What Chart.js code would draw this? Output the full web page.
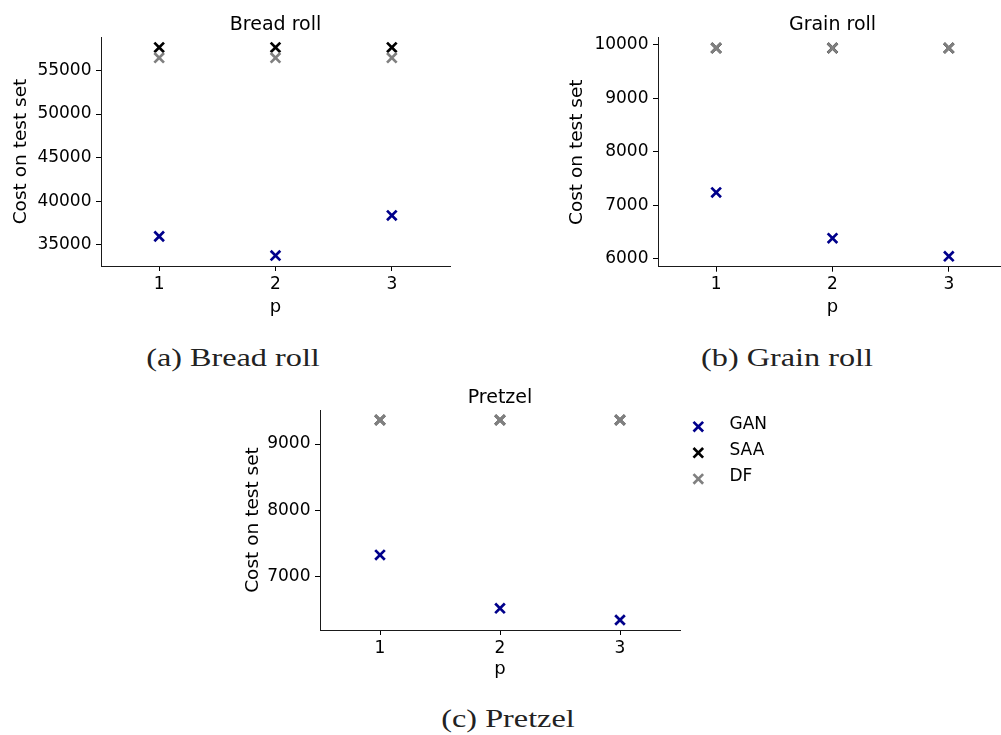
<!DOCTYPE html>
<html>
<head>
<meta charset="utf-8">
<script src="https://cdn.jsdelivr.net/npm/chart.js@4/dist/chart.umd.min.js"></script>
<style>
  html, body { margin: 0; padding: 0; background: #fff; overflow: hidden; width: 1001px; height: 735px; }
  canvas { position: absolute; }
  .cap {
    position: absolute;
    font-family: "Liberation Serif", "Times New Roman", serif;
    font-size: 26px;
    line-height: 26px;
    white-space: nowrap;
    color: #222;
    transform: translateX(-50%) scaleX(1.24);
  }
</style>
</head>
<body>
<canvas id="bread" width="460" height="330" style="left:0px;top:0px"></canvas>
<canvas id="grain" width="470" height="330" style="left:550px;top:0px"></canvas>
<canvas id="pretzel" width="620" height="310" style="left:230px;top:380px"></canvas>

<div class="cap" style="left:233px;top:345px">(a) Bread roll</div>
<div class="cap" style="left:787px;top:345px">(b) Grain roll</div>
<div class="cap" style="left:508px;top:706px">(c) Pretzel</div>

<script>
// Values of p on the x axis and the tick positions shown there
const pValues = [1, 2, 3];
const xTicks = [1, 2, 3];

// Series shared by all three panels (later series are drawn on top)
const seriesNames = ['GAN', 'SAA', 'DF'];
const seriesColors = ['#00008b', '#000000', '#808080'];

// Bread roll: cost on test set
const breadGAN = [35980, 33780, 38380];
const breadSAA = [57630, 57630, 57630];
const breadDF  = [56440, 56440, 56440];
const breadYTicks = [35000, 40000, 45000, 50000, 55000];

// Grain roll: cost on test set
const grainGAN = [7243, 6388, 6050];
const grainSAA = [9938, 9938, 9938];
const grainDF  = [9938, 9938, 9938];
const grainYTicks = [6000, 7000, 8000, 9000, 10000];

// Pretzel: cost on test set
const pretzelGAN = [7331, 6529, 6353];
const pretzelSAA = [9361, 9361, 9361];
const pretzelDF  = [9361, 9361, 9361];
const pretzelYTicks = [7000, 8000, 9000];

const FONT = '"DejaVu Sans", sans-serif';
Chart.defaults.font.family = FONT;
Chart.defaults.color = '#000';

const MARK_RADIUS = 6.8;
const MARK_WIDTH = 2.7;

// y range: data extent with 5% margin on both ends
function paddedRange(arrays) {
  const all = arrays.flat();
  const lo = Math.min(...all), hi = Math.max(...all);
  const m = (hi - lo) * 0.05;
  return [lo - m, hi + m];
}

// Legend placed to the right of the plot area, drawn from the dataset styles
const sideLegend = {
  id: 'sideLegend',
  afterDraw(chart) {
    const { ctx, chartArea } = chart;
    ctx.save();
    chart.data.datasets.forEach((ds, i) => {
      const cx = chartArea.right + 18.3;
      const cy = chartArea.top + 16.7 + i * 26.1;
      ctx.strokeStyle = ds.borderColor;
      ctx.fillStyle = ds.borderColor;
      ctx.lineWidth = ds.pointBorderWidth;
      if (Chart.helpers && Chart.helpers.drawPoint) {
        Chart.helpers.drawPoint(ctx, {
          pointStyle: 'crossRot', radius: ds.pointRadius,
          borderWidth: ds.pointBorderWidth, rotation: 0
        }, cx, cy);
      } else {
        const h = ds.pointRadius * Math.SQRT1_2;
        ctx.beginPath();
        ctx.moveTo(cx - h, cy - h); ctx.lineTo(cx + h, cy + h);
        ctx.moveTo(cx + h, cy - h); ctx.lineTo(cx - h, cy + h);
        ctx.stroke();
      }
      ctx.fillStyle = '#000';
      ctx.font = '17px ' + FONT;
      ctx.textBaseline = 'middle';
      ctx.textAlign = 'left';
      ctx.fillText(ds.label, chartArea.right + 49.5, cy - 2.5);
    });
    ctx.restore();
  }
};

function makePanel(id, title, series, yTicks, g) {
  const [yMin, yMax] = paddedRange(series);
  return new Chart(document.getElementById(id), {
    type: 'scatter',
    data: {
      datasets: series.map((vals, i) => ({
        label: seriesNames[i],
        data: pValues.map((p, j) => ({ x: p, y: vals[j] })),
        order: series.length - 1 - i,
        pointStyle: 'crossRot',
        pointRadius: MARK_RADIUS,
        pointHoverRadius: MARK_RADIUS,
        pointBorderWidth: MARK_WIDTH,
        pointHoverBorderWidth: MARK_WIDTH,
        borderColor: seriesColors[i],
        backgroundColor: seriesColors[i],
        showLine: false
      }))
    },
    options: {
      responsive: false,
      animation: false,
      devicePixelRatio: 1,
      events: [],
      layout: { padding: g.padding },
      plugins: {
        legend: { display: false },
        tooltip: { enabled: false },
        title: {
          display: true,
          text: title,
          fullSize: false,
          color: '#000',
          font: { size: 19, weight: 'normal', family: FONT, lineHeight: 1.2 },
          padding: g.titlePad
        }
      },
      scales: {
        x: {
          type: 'linear',
          min: 0.5,
          max: 3.5,
          afterBuildTicks: s => { s.ticks = xTicks.map(v => ({ value: v })); },
          afterFit: s => { s.height = g.xHeight; },
          grid: { display: true, drawOnChartArea: false, drawTicks: true, tickLength: 5, tickColor: '#000', tickWidth: 1 },
          border: { display: true, color: '#1a1a1a', width: 1 },
          ticks: { color: '#000', font: { size: 17 }, padding: 3, maxRotation: 0, autoSkip: false, callback: v => String(v) },
          title: { display: true, text: 'p', color: '#000', font: { size: 18, lineHeight: 1.2 }, padding: { top: 0, bottom: g.xTitlePad } }
        },
        y: {
          type: 'linear',
          min: yMin,
          max: yMax,
          afterBuildTicks: s => { s.ticks = yTicks.map(v => ({ value: v })); },
          afterFit: s => { s.width = g.yWidth; },
          grid: { display: true, drawOnChartArea: false, drawTicks: true, tickLength: 5, tickColor: '#000', tickWidth: 1 },
          border: { display: true, color: '#1a1a1a', width: 1 },
          ticks: { color: '#000', font: { size: 17 }, padding: 4.5, autoSkip: false, callback: v => String(v) },
          title: { display: true, text: 'Cost on test set', color: '#000', font: { size: 18.5, lineHeight: 1.2 }, padding: { top: g.yTitlePad, bottom: 0 } }
        }
      }
    },
    plugins: g.legend ? [sideLegend] : []
  });
}

makePanel('bread', 'Bread roll', [breadGAN, breadSAA, breadDF], breadYTicks, {
  padding: { left: 0, right: 10, top: 0, bottom: 0 },
  titlePad: { top: 13.6, bottom: 0.6 },
  yWidth: 101, xHeight: 64, xTitlePad: 11.6, yTitlePad: 10.3, legend: false
});

makePanel('grain', 'Grain roll', [grainGAN, grainSAA, grainDF], grainYTicks, {
  padding: { left: 0, right: 13, top: 0, bottom: 0 },
  titlePad: { top: 13.6, bottom: 1.3 },
  yWidth: 108, xHeight: 63.3, xTitlePad: 11.6, yTitlePad: 16.3, legend: false
});

makePanel('pretzel', 'Pretzel', [pretzelGAN, pretzelSAA, pretzelDF], pretzelYTicks, {
  padding: { left: 0, right: 170, top: 0, bottom: 0 },
  titlePad: { top: 6.2, bottom: 1.0 },
  yWidth: 90, xHeight: 60, xTitlePad: 10.0, yTitlePad: 11.6, legend: true
});
</script>
</body>
</html>
